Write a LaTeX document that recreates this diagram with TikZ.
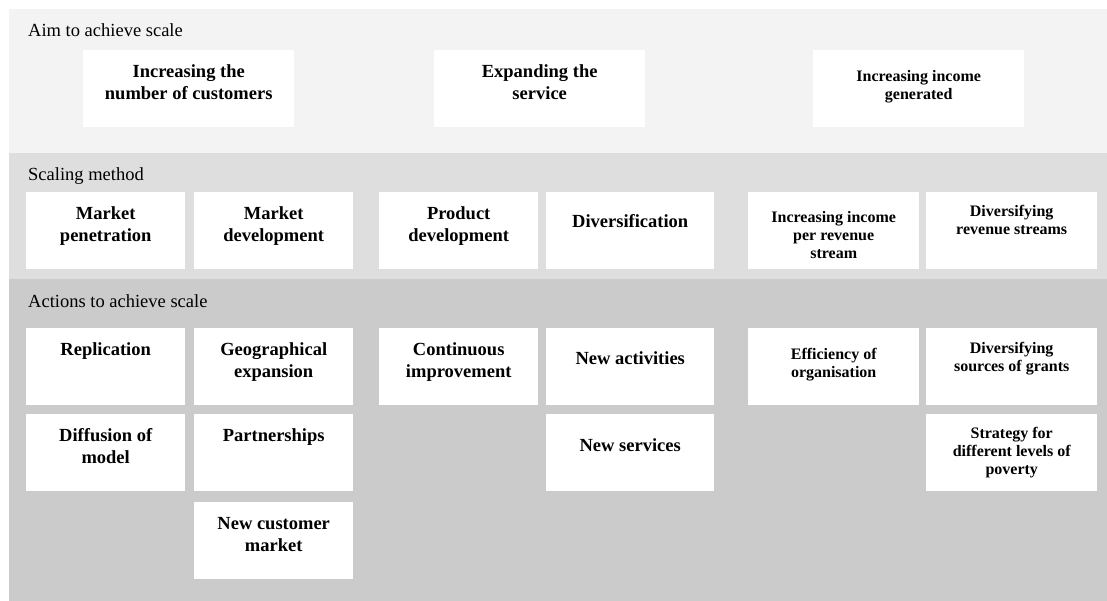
\documentclass[tikz,border=0pt]{standalone}
\usepackage{fontspec}
\setmainfont{Liberation Serif}
\definecolor{AimClr}{RGB}{243,243,243}
\definecolor{MethodClr}{RGB}{222,222,222}
\definecolor{ActionClr}{RGB}{203,203,203}

\begin{document}
\begin{tikzpicture}[x=1pt,y=-1pt,
  tile/.style={fill=white,inner sep=0pt,minimum width=159pt,minimum height=77pt,anchor=north west},
  midtile/.style={tile,minimum width=168pt},
  righttile/.style={tile,minimum width=171pt},
  aimtile/.style={tile,minimum width=211pt},
  tiletext/.style={anchor=north,inner sep=0pt,align=center,font=\fontsize{18.5}{22}\selectfont\bfseries},
  smalltext/.style={tiletext,font=\fontsize{16}{18}\selectfont\bfseries},
  bandlabel/.style={anchor=base west,inner sep=0pt,font=\fontsize{18.5}{22}\selectfont}]
\useasboundingbox (0,0) rectangle (1107,601);
\fill[white] (0,0) rectangle (1107,601);

% bands
\fill[AimClr] (9,9) rectangle (1107,153);
\fill[MethodClr] (9,153) rectangle (1107,279);
\fill[ActionClr] (9,279) rectangle (1107,601);

\node[bandlabel] (aim) at (28,37) {Aim to achieve scale};
\node[bandlabel] (method) at (28,181) {Scaling method};
\node[bandlabel] (action) at (28,308) {Actions to achieve scale};

% aim row
\node[aimtile] (cust) at (83,50) {};
\node[aimtile] (serv) at (434,50) {};
\node[aimtile] (inc) at (813,50) {};
\node[tiletext] (cust-t) at ([yshift=-14pt]cust.north) {Increasing the\\number of customers};
\node[tiletext] (serv-t) at ([yshift=-14pt]serv.north) {Expanding the\\service};
\node[smalltext] (inc-t) at ([yshift=-20pt]inc.north) {Increasing income\\generated};

% scaling method row
\node[tile] (mpen) at (26,192) {};
\node[tile] (mdev) at (194,192) {};
\node[tile] (pdev) at (379,192) {};
\node[midtile] (divers) at (546,192) {};
\node[righttile] (increv) at (748,192) {};
\node[righttile] (divrev) at (926,192) {};
\node[tiletext] (mpen-t) at ([yshift=-14pt]mpen.north) {Market\\penetration};
\node[tiletext] (mdev-t) at ([yshift=-14pt]mdev.north) {Market\\development};
\node[tiletext] (pdev-t) at ([yshift=-14pt]pdev.north) {Product\\development};
\node[tiletext] (divers-t) at ([yshift=-22pt]divers.north) {Diversification};
\node[smalltext] (increv-t) at ([yshift=-19pt]increv.north) {Increasing income\\per revenue\\stream};
\node[smalltext] (divrev-t) at ([yshift=-13pt]divrev.north) {Diversifying\\revenue streams};

% actions, first row
\node[tile] (repl) at (26,328) {};
\node[tile] (geo) at (194,328) {};
\node[tile] (cont) at (379,328) {};
\node[midtile] (newact) at (546,328) {};
\node[righttile] (eff) at (748,328) {};
\node[righttile] (divgr) at (926,328) {};
\node[tiletext] (repl-t) at ([yshift=-14pt]repl.north) {Replication};
\node[tiletext] (geo-t) at ([yshift=-14pt]geo.north) {Geographical\\expansion};
\node[tiletext] (cont-t) at ([yshift=-14pt]cont.north) {Continuous\\improvement};
\node[tiletext] (newact-t) at ([yshift=-23pt]newact.north) {New activities};
\node[smalltext] (eff-t) at ([yshift=-20pt]eff.north) {Efficiency of\\organisation};
\node[smalltext] (divgr-t) at ([yshift=-14pt]divgr.north) {Diversifying\\sources of grants};

% actions, second row
\node[tile] (diff) at (26,414) {};
\node[tile] (partn) at (194,414) {};
\node[midtile] (newserv) at (546,414) {};
\node[righttile] (strat) at (926,414) {};
\node[tiletext] (diff-t) at ([yshift=-14pt]diff.north) {Diffusion of\\model};
\node[tiletext] (partn-t) at ([yshift=-14pt]partn.north) {Partnerships};
\node[tiletext] (newserv-t) at ([yshift=-24pt]newserv.north) {New services};
\node[smalltext] (strat-t) at ([yshift=-13pt]strat.north) {Strategy for\\different levels of\\poverty};

% actions, third row
\node[tile] (newcust) at (194,502) {};
\node[tiletext] (newcust-t) at ([yshift=-15pt]newcust.north) {New customer\\market};

\end{tikzpicture}
\end{document}
